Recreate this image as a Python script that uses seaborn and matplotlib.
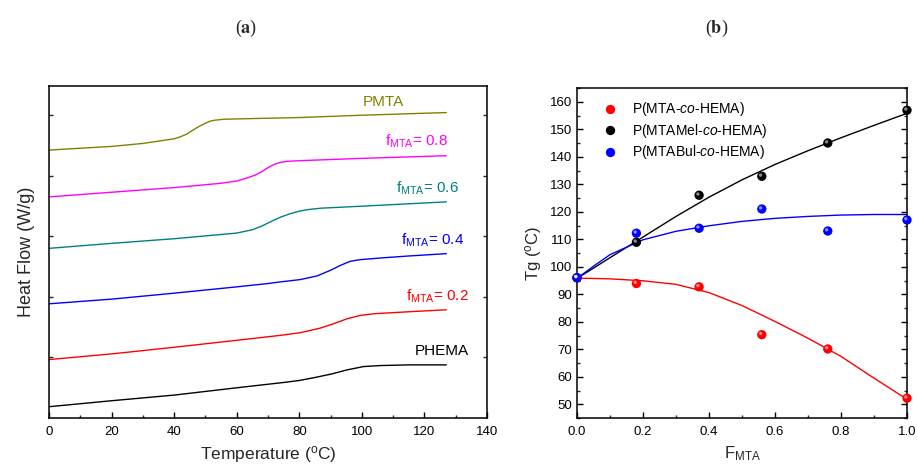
import numpy as np
import pandas as pd
import matplotlib
matplotlib.use("Agg")
import matplotlib.pyplot as plt
import matplotlib.transforms as mtransforms
from matplotlib.ticker import MultipleLocator, FixedLocator
import seaborn as sns

# ---------------- data: panel (a) DSC curves (arbitrary heat-flow units) -------------
T_pmta = [0, 20, 30, 40, 42, 44, 45, 47, 48.5, 50, 51.5, 53, 56, 80, 100, 127]
H_pmta = [8.07, 8.18, 8.27, 8.41, 8.47, 8.55, 8.61, 8.73, 8.81, 8.88, 8.94, 8.97, 9.00, 9.05, 9.12, 9.20]

T_f08 = [0, 20, 40, 55, 60, 63, 66, 68, 70, 72, 74, 76, 80, 100, 127]
H_f08 = [6.66, 6.80, 6.94, 7.07, 7.14, 7.22, 7.32, 7.42, 7.54, 7.64, 7.70, 7.73, 7.75, 7.82, 7.90]

T_f06 = [0, 20, 40, 60, 65, 68, 71, 74, 77, 80, 83, 87, 100, 127]
H_f06 = [5.11, 5.26, 5.40, 5.57, 5.67, 5.78, 5.92, 6.05, 6.15, 6.23, 6.28, 6.32, 6.38, 6.51]

T_f04 = [0, 20, 40, 60, 70, 74, 80.4, 85.7, 90, 93.2, 96.3, 99.5, 106, 115, 127]
H_f04 = [3.44, 3.58, 3.76, 3.95, 4.05, 4.10, 4.17, 4.28, 4.45, 4.60, 4.72, 4.77, 4.82, 4.88, 4.95]

T_f02 = [0, 20, 40, 60, 74, 80.4, 86.8, 91, 95.3, 99.5, 103.8, 115, 127]
H_f02 = [1.76, 1.93, 2.13, 2.34, 2.49, 2.57, 2.71, 2.84, 2.99, 3.09, 3.14, 3.20, 3.26]

T_phema = [0, 20, 40, 60, 75, 80, 85, 90.5, 95.3, 100.6, 106, 115, 127]
H_phema = [0.34, 0.52, 0.69, 0.91, 1.07, 1.13, 1.22, 1.33, 1.45, 1.55, 1.58, 1.60, 1.60]

curve_names = ["PMTA", "f0.8", "f0.6", "f0.4", "f0.2", "PHEMA"]
curve_colors = ["#808000", "#FF00FF", "#008080", "#0000FF", "#FF0000", "#000000"]
curve_labels = ["PMTA", r"f$_{\mathrm{MTA}}$= 0.8", r"f$_{\mathrm{MTA}}$= 0.6",
                r"f$_{\mathrm{MTA}}$= 0.4", r"f$_{\mathrm{MTA}}$= 0.2", "PHEMA"]
label_T = [100.2, 107.3, 111.0, 112.4, 114.0, 117.0]
label_H = [9.53, 8.33, 6.92, 5.36, 3.66, 2.01]

# ---------------- data: panel (b) Tg vs F_MTA ----------------------------------------
F_pts = [0.0, 0.18, 0.37, 0.56, 0.76, 1.0]
Tg_mta = [96.0, 93.9, 92.7, 75.3, 70.1, 52.2]
Tg_mtamel = [96.0, 108.9, 126.0, 132.9, 145.0, 156.9]
Tg_mtabul = [96.0, 112.2, 114.0, 121.0, 113.0, 117.0]

# fitted curves
F_fit = [0.0, 0.05, 0.1, 0.2, 0.3, 0.4, 0.5, 0.6, 0.7, 0.8, 0.9, 1.0]
fit_mta = [95.8, 95.75, 95.6, 94.9, 93.6, 90.6, 85.9, 80.1, 74.0, 67.4, 59.5, 51.8]
fit_mtamel = [95.8, 99.5, 103.3, 110.8, 118.3, 125.3, 131.6, 137.2, 142.2, 146.9, 151.4, 155.8]
fit_mtabul = [95.8, 100.2, 104.4, 109.8, 112.9, 114.9, 116.5, 117.6, 118.3, 118.8, 119.0, 119.0]

series_names = [r"P(MTA-$\it{co}$-HEMA)", r"P(MTAMel-$\it{co}$-HEMA)", r"P(MTABul-$\it{co}$-HEMA)"]
series_colors = ["#FF0000", "#000000", "#0000FF"]

# ---------------- style ---------------------------------------------------------------
sns.set_theme(style="ticks")
plt.rcParams["font.family"] = ["Liberation Sans", "DejaVu Sans"]
plt.rcParams["mathtext.fontset"] = "custom"
plt.rcParams["mathtext.rm"] = "Liberation Sans"
plt.rcParams["mathtext.it"] = "Liberation Sans:italic"
plt.rcParams["mathtext.bf"] = "Liberation Sans:bold"
plt.rcParams["axes.linewidth"] = 1.1
plt.rcParams["axes.edgecolor"] = "black"
plt.rcParams["lines.solid_joinstyle"] = "round"

fig = plt.figure(figsize=(9.17, 4.68), dpi=100)
axA = fig.add_axes([49 / 917, 1 - 418 / 468, 438 / 917, 332 / 468])
axB = fig.add_axes([577 / 917, 1 - 418 / 468, 330 / 917, 330 / 468])

# ---------------- panel (a) -----------------------------------------------------------
Ts = [T_pmta, T_f08, T_f06, T_f04, T_f02, T_phema]
Hs = [H_pmta, H_f08, H_f06, H_f04, H_f02, H_phema]
dfA = pd.concat([pd.DataFrame({"T": t, "H": h, "sample": n}) for t, h, n in zip(Ts, Hs, curve_names)],
                ignore_index=True)
sns.lineplot(data=dfA, x="T", y="H", hue="sample", palette=dict(zip(curve_names, curve_colors)),
             linewidth=1.0, legend=False, ax=axA, sort=False, estimator=None)
for lab, tx, ty, c in zip(curve_labels, label_T, label_H, curve_colors):
    axA.text(tx, ty, lab, color=c, fontsize=11, ha="left", va="center")

axA.set_xlim(0, 140)
axA.set_ylim(0, 10)
axA.xaxis.set_major_locator(MultipleLocator(20))
axA.xaxis.set_minor_locator(MultipleLocator(10))
axA.yaxis.set_major_locator(FixedLocator([1.825, 3.65, 5.475, 7.3, 9.125]))
axA.tick_params(axis="x", which="major", direction="in", length=4, width=1, labelsize=9.5, pad=6,
                top=False, bottom=True, colors="black")
axA.tick_params(axis="x", which="minor", direction="in", length=2.5, width=1, top=False, bottom=True)
axA.tick_params(axis="y", which="major", direction="in", length=3, width=1, left=True, right=True,
                labelleft=False)
axA.set_xlabel(r"Temperature ($^{\mathrm{o}}$C)", fontsize=12.5, labelpad=4)
axA.set_ylabel("Heat Flow (W/g)", fontsize=13, labelpad=10)
for s in axA.spines.values():
    s.set_visible(True)
    s.set_color("black")

# ---------------- panel (b) -----------------------------------------------------------
fits = [fit_mta, fit_mtamel, fit_mtabul]
pts = [Tg_mta, Tg_mtamel, Tg_mtabul]
dfFit = pd.concat([pd.DataFrame({"F": F_fit, "Tg": f, "series": n}) for f, n in zip(fits, series_names)],
                  ignore_index=True)
dfPts = pd.concat([pd.DataFrame({"F": F_pts, "Tg": p, "series": n}) for p, n in zip(pts, series_names)],
                  ignore_index=True)
pal = dict(zip(series_names, series_colors))
sns.lineplot(data=dfFit, x="F", y="Tg", hue="series", palette=pal, linewidth=1.0,
             legend=False, ax=axB, sort=False, estimator=None, zorder=2)
sns.scatterplot(data=dfPts, x="F", y="Tg", hue="series", palette=pal, s=45,
                edgecolor="none", ax=axB, zorder=3, clip_on=False, legend=True)
# highlight for shiny sphere look
hl = mtransforms.offset_copy(axB.transData, fig=fig, x=-1.2, y=1.2, units="dots")
for p in pts:
    axB.scatter(F_pts, p, s=6, color="white", alpha=0.55, edgecolor="none",
                transform=hl, zorder=4, clip_on=False)

leg = axB.legend(loc="upper left", frameon=False, fontsize=10, handletextpad=0.6,
                 labelspacing=0.25, borderaxespad=0.5, bbox_to_anchor=(0.02, 1.0),
                 markerscale=1.0)
for txt in leg.get_texts():
    txt.set_color("black")

axB.set_xlim(0, 1.0)
axB.set_ylim(45, 165)
axB.xaxis.set_minor_locator(MultipleLocator(0.1))
axB.yaxis.set_minor_locator(MultipleLocator(5))
axB.set_xticks([0, 0.2, 0.4, 0.6, 0.8, 1.0])
axB.set_xticklabels(["0.0", "0.2", "0.4", "0.6", "0.8", "1.0"])
axB.set_yticks(list(range(50, 161, 10)))
axB.tick_params(axis="both", which="major", direction="in", length=4, width=1, labelsize=9.5,
                left=True, right=True, bottom=True, top=False, colors="black")
axB.tick_params(axis="both", which="minor", direction="in", length=2.5, width=1,
                left=True, right=True, bottom=True, top=False)
axB.tick_params(axis="x", which="major", pad=6)
axB.set_xlabel(r"F$_{\mathrm{MTA}}$", fontsize=12, labelpad=4)
axB.set_ylabel(r"Tg ($^{\mathrm{o}}$C)", fontsize=12, labelpad=4)
for s in axB.spines.values():
    s.set_visible(True)
    s.set_color("black")

# ---------------- panel titles --------------------------------------------------------
fig.text(246 / 917, 1 - 28 / 468, r"($\mathbf{a}$)", fontsize=13, ha="center", va="center",
         family="Liberation Serif", math_fontfamily="stix")
fig.text(717 / 917, 1 - 28 / 468, r"($\mathbf{b}$)", fontsize=13, ha="center", va="center",
         family="Liberation Serif", math_fontfamily="stix")

fig.savefig("out.png", dpi=100, facecolor="white")
